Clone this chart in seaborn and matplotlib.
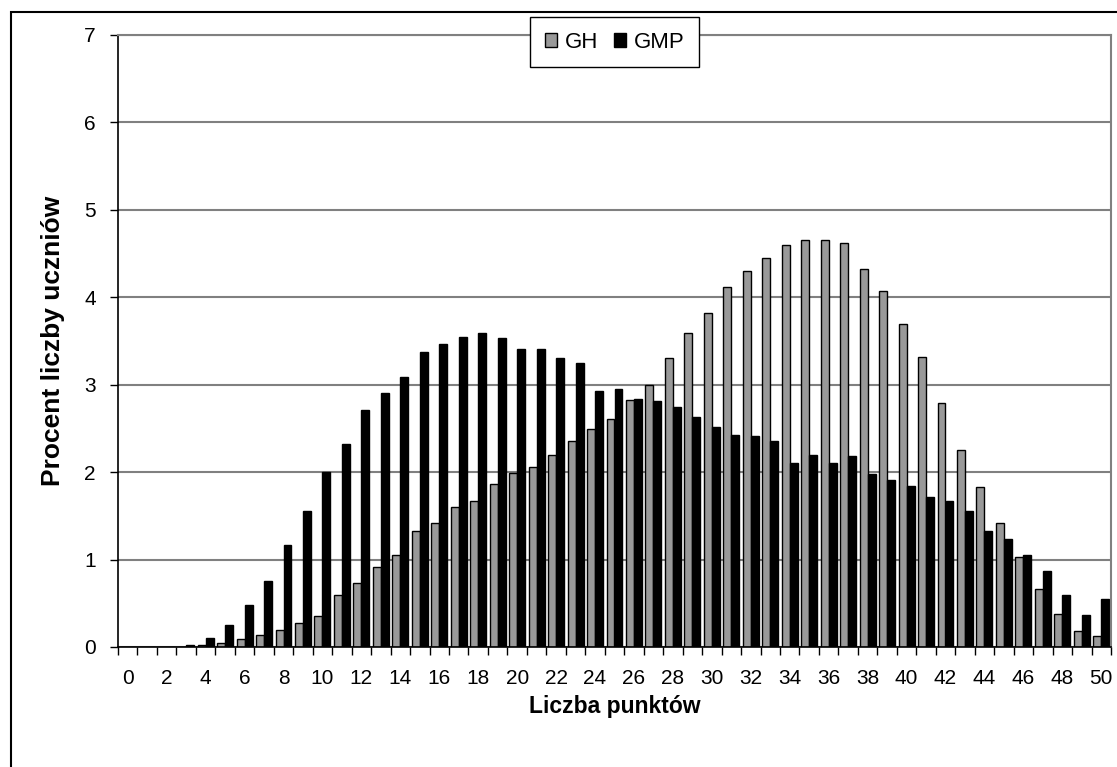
import matplotlib
matplotlib.use("Agg")
import matplotlib.pyplot as plt
from matplotlib.patches import Rectangle
from matplotlib.ticker import FixedLocator
import numpy as np
import pandas as pd
import seaborn as sns

# Liczba punktów 0..50
punkty = list(range(51))

# Procent liczby uczniów - GH (szary)
gh = [0, 0, 0, 0, 0.02, 0.05, 0.09, 0.14, 0.19, 0.27,
      0.35, 0.6, 0.73, 0.91, 1.05, 1.33, 1.42, 1.6, 1.67, 1.87,
      1.99, 2.06, 2.2, 2.36, 2.49, 2.61, 2.82, 3.0, 3.31, 3.59,
      3.82, 4.12, 4.3, 4.45, 4.6, 4.66, 4.66, 4.62, 4.32, 4.07,
      3.69, 3.32, 2.79, 2.25, 1.83, 1.42, 1.03, 0.66, 0.38, 0.18,
      0.13]

# Procent liczby uczniów - GMP (czarny)
gmp = [0, 0, 0, 0.02, 0.1, 0.25, 0.48, 0.76, 1.17, 1.56,
       2.0, 2.32, 2.71, 2.91, 3.09, 3.37, 3.46, 3.55, 3.59, 3.53,
       3.41, 3.41, 3.3, 3.25, 2.93, 2.95, 2.84, 2.81, 2.75, 2.63,
       2.52, 2.43, 2.41, 2.36, 2.11, 2.2, 2.11, 2.18, 1.98, 1.91,
       1.84, 1.72, 1.67, 1.56, 1.33, 1.23, 1.05, 0.87, 0.6, 0.37,
       0.55]

seria = ["GH", "GMP"]
kolory = {"GH": "#999999", "GMP": "#000000"}

df = pd.DataFrame({
    "punkty": punkty * 2,
    "procent": gh + gmp,
    "seria": ["GH"] * len(punkty) + ["GMP"] * len(punkty),
})

sns.set_style("white")
plt.rcParams["font.family"] = ["Liberation Sans", "DejaVu Sans"]
plt.rcParams["text.color"] = "black"
plt.rcParams["axes.labelcolor"] = "black"
plt.rcParams["xtick.color"] = "black"
plt.rcParams["ytick.color"] = "black"

fig = plt.figure(figsize=(11.17, 7.67), dpi=100)
ax = fig.add_axes([118 / 1117, 120 / 767, 993 / 1117, 612 / 767])

sns.barplot(data=df, x="punkty", y="procent", hue="seria", hue_order=seria,
            order=punkty, palette=kolory, width=0.82, edgecolor="black",
            linewidth=1, saturation=1, ax=ax)

ax.set_xlim(-0.5, 50.5)
ax.set_ylim(0, 7)
ax.set_yticks(range(8))
ax.yaxis.grid(True, color="#808080", linewidth=1.5)
ax.set_axisbelow(True)

# etykiety co 2 punkty, kreski między kategoriami
ax.set_xticks(punkty[::2])
ax.set_xticklabels([str(p) for p in punkty[::2]])
ax.xaxis.set_minor_locator(FixedLocator(np.arange(-0.5, 51, 1)))
ax.tick_params(axis="x", which="major", length=0, pad=16, labelsize=15)
ax.tick_params(axis="x", which="minor", length=6, width=1, color="black",
               direction="out", bottom=True)
ax.tick_params(axis="y", length=6, width=1, color="black", direction="out",
               left=True, pad=10, labelsize=15)

for s in ["left", "bottom"]:
    ax.spines[s].set_color("black")
    ax.spines[s].set_linewidth(1.2)
for s in ["top", "right"]:
    ax.spines[s].set_color("#808080")
    ax.spines[s].set_linewidth(1.5)

ax.set_xlabel("Liczba punktów", fontsize=16.5, fontweight="bold", labelpad=5)
ax.set_ylabel("Procent liczby uczniów", fontsize=19, fontweight="bold",
              labelpad=14)

uchwyty, etykiety = ax.get_legend_handles_labels()
leg = ax.legend(uchwyty, etykiety, loc="upper center", bbox_to_anchor=(0.5, 1.029),
                ncol=2, frameon=True, fancybox=False, framealpha=1, fontsize=16,
                edgecolor="black", handlelength=0.55, handleheight=0.55,
                handletextpad=0.35, columnspacing=0.7, borderpad=0.65,
                borderaxespad=0)
leg.get_frame().set_linewidth(1)

# ramka wokół wykresu
fig.patches.append(Rectangle((11 / 1117, -0.1), 1.2, 0.1 + 755 / 767,
                             transform=fig.transFigure, fill=False,
                             edgecolor="black", linewidth=1.5, clip_on=False))

fig.savefig("out.png", dpi=100)
